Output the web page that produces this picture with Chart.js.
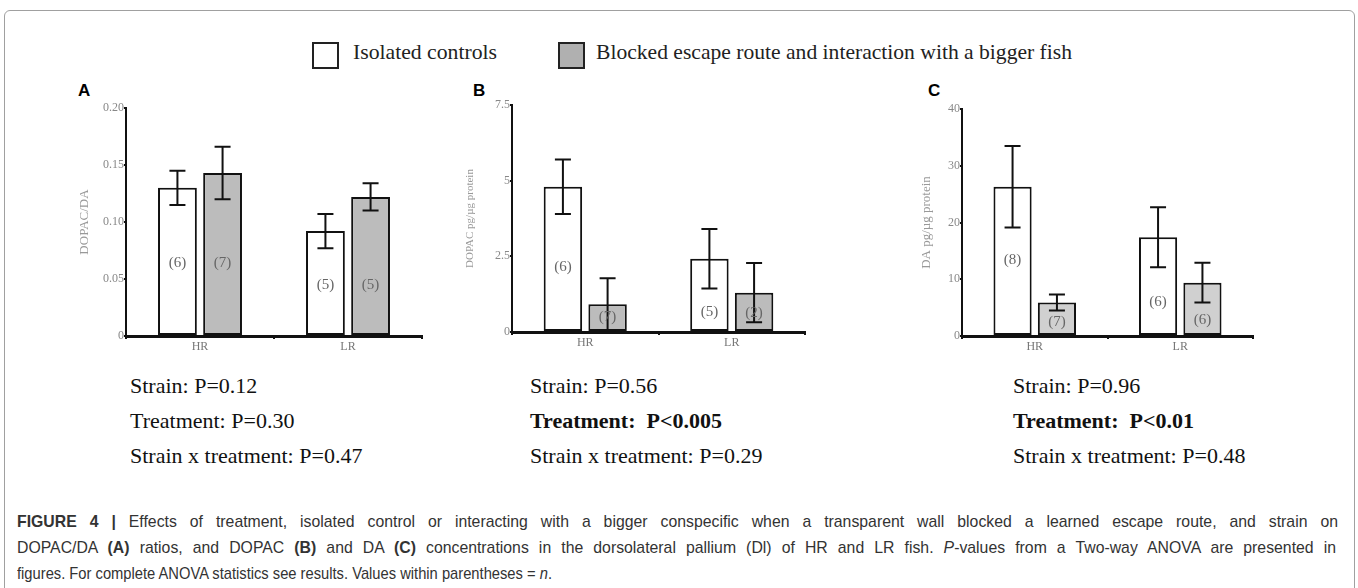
<!DOCTYPE html>
<html>
<head>
<meta charset="utf-8">
<script src="https://cdn.jsdelivr.net/npm/chart.js@4.4.1/dist/chart.umd.min.js"></script>
<style>
  html,body{margin:0;padding:0;background:#fff;}
  body{width:1358px;height:588px;position:relative;overflow:hidden;font-family:"Liberation Serif","Times New Roman",serif;}
  .frame{position:absolute;left:4px;top:10px;width:1349px;height:600px;border:1px solid #a0a0a0;border-radius:6px;}
  .abs{position:absolute;white-space:nowrap;transform-origin:0 0;}
  .letter{font-family:"Liberation Sans",Arial,sans-serif;font-weight:bold;font-size:17px;color:#000;}
  .stat{font-size:22px;color:#111;line-height:24px;}
  .leg{font-size:22px;line-height:22px;color:#222;}
  .box{position:absolute;width:23px;height:23px;border:2px solid #222;}
  .cap{font-family:"Liberation Sans",Arial,sans-serif;font-size:17px;color:#333;line-height:26px;}
  canvas{position:absolute;}
</style>
</head>
<body>
<div class="frame"></div>

<div class="box" style="left:312px;top:42px;background:#fff;"></div>
<div class="abs leg" data-w="144" style="left:353px;top:41px;">Isolated controls</div>
<div class="box" style="left:558px;top:42px;background:#b0b0b0;"></div>
<div class="abs leg" data-w="476" style="left:596px;top:41px;">Blocked escape route and interaction with a bigger fish</div>

<div class="abs letter" style="left:78px;top:81px;">A</div>
<div class="abs letter" style="left:473px;top:81px;">B</div>
<div class="abs letter" style="left:928px;top:81px;">C</div>

<canvas id="cA" width="380" height="270" style="left:60px;top:95px;"></canvas>
<canvas id="cB" width="358" height="266" style="left:462px;top:95px;"></canvas>
<canvas id="cC" width="368" height="270" style="left:900px;top:95px;"></canvas>

<div class="abs stat" style="left:130px;top:374px;">Strain: P=0.12</div>
<div class="abs stat" style="left:130px;top:409px;">Treatment: P=0.30</div>
<div class="abs stat" style="left:130px;top:444px;">Strain x treatment: P=0.47</div>

<div class="abs stat" style="left:530px;top:374px;">Strain: P=0.56</div>
<div class="abs stat" style="left:530px;top:409px;"><b>Treatment:&nbsp; P&lt;0.005</b></div>
<div class="abs stat" style="left:530px;top:444px;">Strain x treatment: P=0.29</div>

<div class="abs stat" style="left:1013px;top:374px;">Strain: P=0.96</div>
<div class="abs stat" style="left:1013px;top:409px;"><b>Treatment:&nbsp; P&lt;0.01</b></div>
<div class="abs stat" style="left:1013px;top:444px;">Strain x treatment: P=0.48</div>

<div class="abs cap" id="cap1" style="left:17px;top:509px;"><b>FIGURE 4 |</b> Effects of treatment, isolated control or interacting with a bigger conspecific when a transparent wall blocked a learned escape route, and strain on</div>
<div class="abs cap" id="cap2" style="left:17px;top:535px;">DOPAC/DA <b>(A)</b> ratios, and DOPAC <b>(B)</b> and DA <b>(C)</b> concentrations in the dorsolateral pallium (Dl) of HR and LR fish. <i>P</i>-values from a Two-way ANOVA are presented in</div>
<div class="abs cap" id="cap3" style="left:17px;top:561px;">figures. For complete ANOVA statistics see results. Values within parentheses = <i>n</i>.</div>

<script>
// ---- Data ----
const categories = ['HR', 'LR'];
const seriesNames = ['Isolated controls', 'Blocked escape route and interaction with a bigger fish'];

// Panel A: DOPAC/DA
const aControl = [0.130, 0.092];
const aBlocked = [0.143, 0.122];
const aControlErr = [0.015, 0.015];
const aBlockedErr = [0.023, 0.012];
const aControlN = ['(6)', '(5)'];
const aBlockedN = ['(7)', '(5)'];
const aControlNAt = [0.064, 0.045];
const aBlockedNAt = [0.064, 0.045];
const aTicks = [0, 0.05, 0.10, 0.15, 0.20];
const aTickLabels = ['0', '0.05', '0.10', '0.15', '0.20'];

// Panel B: DOPAC pg/µg protein
const bControl = [4.80, 2.42];
const bBlocked = [0.92, 1.30];
const bControlErr = [0.90, 0.98];
const bBlockedErr = [0.86, 0.98];
const bControlN = ['(6)', '(5)'];
const bBlockedN = ['(7)', '(2)'];
const bControlNAt = [2.15, 0.66];
const bBlockedNAt = [0.50, 0.63];
const bTicks = [0, 2.5, 5, 7.5];
const bTickLabels = ['0', '2.5', '5', '7.5'];

// Panel C: DA pg/µg protein
const cControl = [26.3, 17.4];
const cBlocked = [5.9, 9.4];
const cControlErr = [7.2, 5.3];
const cBlockedErr = [1.4, 3.5];
const cControlN = ['(8)', '(6)'];
const cBlockedN = ['(7)', '(6)'];
const cControlNAt = [13.4, 6.0];
const cBlockedNAt = [2.5, 2.8];
const cTicks = [0, 10, 20, 30, 40];
const cTickLabels = ['0', '10', '20', '30', '40'];

// fit html text widths to the reference
document.querySelectorAll('[data-w]').forEach(el => {
  const w = el.getBoundingClientRect().width;
  el.style.transform = 'scaleX(' + (parseFloat(el.dataset.w) / w) + ')';
});
// caption: first two lines justified, last line natural
(function () {
  const l3 = document.getElementById('cap3');
  l3.style.transform = 'scaleX(' + (535 / l3.getBoundingClientRect().width) + ')';
  const s = 0.93;
  [['cap1', 1321], ['cap2', 1319]].forEach(([id, target]) => {
    const el = document.getElementById(id);
    const nat = el.getBoundingClientRect().width;
    const spaces = (el.textContent.match(/ /g) || []).length;
    el.style.wordSpacing = ((target / s - nat) / spaces) + 'px';
    el.style.transform = 'scaleX(' + s + ')';
  });
})();

const errorBarPlugin = {
  id: 'errorBars',
  afterDatasetsDraw(chart) {
    const ctx = chart.ctx;
    const y = chart.scales.y;
    chart.data.datasets.forEach((ds, di) => {
      const meta = chart.getDatasetMeta(di);
      meta.data.forEach((bar, i) => {
        const v = ds.data[i], e = ds.err[i];
        const yt = y.getPixelForValue(v + e), yb = y.getPixelForValue(v - e);
        const cap = 8;
        ctx.save();
        ctx.strokeStyle = '#111';
        ctx.lineWidth = 2;
        ctx.beginPath();
        ctx.moveTo(bar.x, yt); ctx.lineTo(bar.x, yb);
        ctx.moveTo(bar.x - cap, yt); ctx.lineTo(bar.x + cap, yt);
        ctx.moveTo(bar.x - cap, yb); ctx.lineTo(bar.x + cap, yb);
        ctx.stroke();
        // n labels
        ctx.fillStyle = '#666';
        ctx.font = '15px "Liberation Serif", serif';
        ctx.textAlign = 'center';
        ctx.textBaseline = 'middle';
        ctx.fillText(ds.nLabels[i], bar.x, y.getPixelForValue(ds.nAt[i]));
        ctx.restore();
      });
    });
  }
};

function makeChart(id, d) {
  const tickSet = d.ticks;
  return new Chart(document.getElementById(id), {
    type: 'bar',
    data: {
      labels: categories,
      datasets: [
        {label: seriesNames[0], data: d.control, err: d.controlErr, nLabels: d.controlN, nAt: d.controlNAt,
         backgroundColor: '#ffffff', borderColor: '#111', borderWidth: 2, borderSkipped: false},
        {label: seriesNames[1], data: d.blocked, err: d.blockedErr, nLabels: d.blockedN, nAt: d.blockedNAt,
         backgroundColor: d.gray, borderColor: '#111', borderWidth: 2, borderSkipped: false}
      ]
    },
    options: {
      responsive: false,
      animation: false,
      devicePixelRatio: 1,
      layout: {padding: {top: d.padTop, right: d.padRight, left: 0, bottom: 0}},
      categoryPercentage: 0.61,
      barPercentage: 0.86,
      plugins: {legend: {display: false}, tooltip: {enabled: false}},
      scales: {
        x: {
          grid: {display: true, drawOnChartArea: false, drawTicks: true, tickLength: 3, color: '#111', lineWidth: 2},
          border: {display: true, color: '#111', width: 3},
          ticks: {color: '#777', font: {family: '"Liberation Serif", serif', size: 12}, padding: 1},
          afterFit(s) { s.height = 29; }
        },
        y: {
          min: tickSet[0], max: tickSet[tickSet.length - 1],
          afterBuildTicks(s) { s.ticks = tickSet.map(v => ({value: v})); },
          grid: {display: true, drawOnChartArea: false, drawTicks: true, tickLength: 2, color: '#111', lineWidth: 2},
          border: {display: true, color: '#111', width: 2},
          ticks: {
            color: '#888', font: {family: '"Liberation Serif", serif', size: 12}, padding: 0,
            callback(v) { const k = tickSet.indexOf(v); return k >= 0 ? d.tickLabels[k] : ''; }
          },
          title: {display: true, text: d.title, color: '#999',
                  font: {family: '"Liberation Serif", serif', size: d.titleSize}, padding: {top: d.titlePad, bottom: 0}},
          afterFit(s) { s.width = d.yWidth; }
        }
      }
    },
    plugins: [errorBarPlugin]
  });
}

makeChart('cA', {control: aControl, blocked: aBlocked, controlErr: aControlErr, blockedErr: aBlockedErr,
  controlN: aControlN, blockedN: aBlockedN, controlNAt: aControlNAt, blockedNAt: aBlockedNAt,
  ticks: aTicks, tickLabels: aTickLabels, title: 'DOPAC/DA', titleSize: 13, titlePad: 17,
  yWidth: 66, padTop: 13, padRight: 18, gray: '#bcbcbc'});
makeChart('cB', {control: bControl, blocked: bBlocked, controlErr: bControlErr, blockedErr: bBlockedErr,
  controlN: bControlN, blockedN: bBlockedN, controlNAt: bControlNAt, blockedNAt: bBlockedNAt,
  ticks: bTicks, tickLabels: bTickLabels, title: 'DOPAC pg/µg protein', titleSize: 11, titlePad: 2,
  yWidth: 50, padTop: 10, padRight: 15, gray: '#bcbcbc'});
makeChart('cC', {control: cControl, blocked: cBlocked, controlErr: cControlErr, blockedErr: cBlockedErr,
  controlN: cControlN, blockedN: cBlockedN, controlNAt: cControlNAt, blockedNAt: cBlockedNAt,
  ticks: cTicks, tickLabels: cTickLabels, title: 'DA pg/µg protein', titleSize: 13, titlePad: 19,
  yWidth: 62, padTop: 14, padRight: 15, gray: '#d0d0d0'});
</script>
</body>
</html>
